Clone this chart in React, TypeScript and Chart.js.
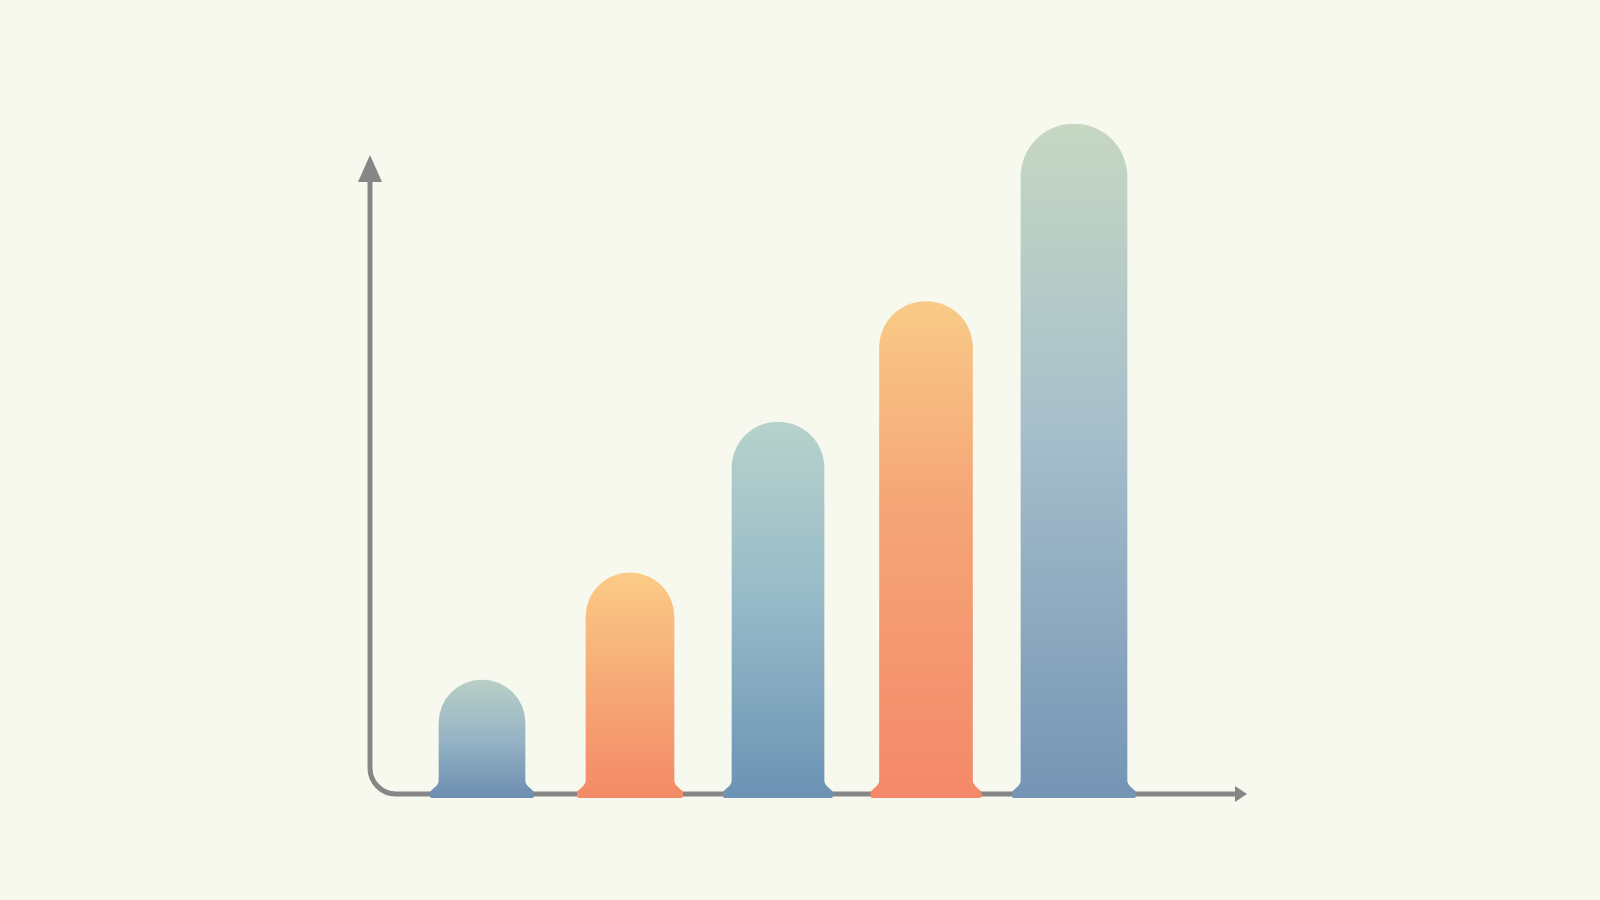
import React, { useEffect, useRef } from 'react';
import { Chart, registerables } from 'chart.js';

Chart.register(...registerables);

// data
const categories = ['A', 'B', 'C', 'D', 'E'];
const values = [17, 33, 55.5, 73.5, 100];
const yMax = 100;

// styles
const BG = '#f7f8ee';
const AXIS = '#868686';
const BAR_WIDTHS = [86, 88, 92, 93, 106];
const BAR_STOPS: [number, string][][] = [
  [[0, '#b9cfc6'], [0.55, '#94b2c4'], [1, '#6e8fb1']],
  [[0, '#fbcb86'], [0.55, '#f6a675'], [1, '#f48b67']],
  [[0, '#b7d2cb'], [0.5, '#95b9c8'], [1, '#6c93b4']],
  [[0, '#f9ca87'], [0.4, '#f5a677'], [1, '#f4896a']],
  [[0, '#c6d7c2'], [0.45, '#a7bfcb'], [1, '#7595b5']],
];

const barGradient = (chart: Chart, i: number, top: number, bottom: number) => {
  const g = chart.ctx.createLinearGradient(0, top, 0, bottom);
  BAR_STOPS[i].forEach(([o, col]) => g.addColorStop(o, col));
  return g;
};

const axisPlugin = {
  id: 'arrowAxes',
  beforeDatasetsDraw(chart: Chart) {
    const { ctx, chartArea } = chart;
    const x0 = chartArea.left - 38;
    const base = chartArea.bottom;
    const tipY = chartArea.top + 31;
    const endX = chartArea.right + 99;
    const r = 26;
    ctx.save();
    ctx.strokeStyle = AXIS;
    ctx.fillStyle = AXIS;
    ctx.lineWidth = 5;
    ctx.lineCap = 'butt';
    ctx.lineJoin = 'round';
    ctx.beginPath();
    ctx.moveTo(x0, tipY + 22);
    ctx.lineTo(x0, base - r);
    ctx.arcTo(x0, base, x0 + r, base, r);
    ctx.lineTo(endX - 8, base);
    ctx.stroke();
    // y arrow head
    ctx.beginPath();
    ctx.moveTo(x0, tipY);
    ctx.lineTo(x0 + 12, tipY + 27);
    ctx.lineTo(x0 - 12, tipY + 27);
    ctx.closePath();
    ctx.fill();
    // x arrow head
    ctx.beginPath();
    ctx.moveTo(endX, base);
    ctx.lineTo(endX - 12, base - 8);
    ctx.lineTo(endX - 12, base + 8);
    ctx.closePath();
    ctx.fill();
    ctx.restore();
  },
};

// flared foot at the base of every bar
const footPlugin = {
  id: 'barFeet',
  afterDatasetsDraw(chart: Chart) {
    const { ctx } = chart;
    chart.data.datasets.forEach((ds, i) => {
      const meta = chart.getDatasetMeta(i);
      meta.data.forEach((el: any, j: number) => {
        if (ds.data[j] == null) return;
        const { x, y, base, width } = el.getProps(['x', 'y', 'base', 'width'], true);
        const l = x - width / 2;
        const rr = x + width / 2;
        const flare = 9;
        const h = 17;
        ctx.save();
        ctx.fillStyle = barGradient(chart, i, y, base);
        ctx.beginPath();
        ctx.moveTo(l + 1, base - h);
        ctx.bezierCurveTo(l, base - 8, l - flare + 3, base - 6, l - flare, base - 2);
        ctx.lineTo(l - flare, base + 2);
        ctx.quadraticCurveTo(l - flare, base + 4, l - flare + 2, base + 4);
        ctx.lineTo(rr + flare - 2, base + 4);
        ctx.quadraticCurveTo(rr + flare, base + 4, rr + flare, base + 2);
        ctx.lineTo(rr + flare, base - 2);
        ctx.bezierCurveTo(rr + flare - 3, base - 6, rr, base - 8, rr - 1, base - h);
        ctx.closePath();
        ctx.fill();
        ctx.restore();
      });
    });
  },
};

const App: React.FC = () => {
  const canvasRef = useRef<HTMLCanvasElement>(null);
  const chartRef = useRef<Chart | null>(null);

  useEffect(() => {
    if (!canvasRef.current) return;
    if (chartRef.current) chartRef.current.destroy();
    const ctx = canvasRef.current.getContext('2d');
    if (!ctx) return;

    const datasets = values.map((v, i) => ({
      label: categories[i],
      data: values.map((_, j) => (j === i ? v : null)),
      barThickness: BAR_WIDTHS[i],
      borderWidth: 0,
      borderSkipped: 'start' as const,
      borderRadius: {
        topLeft: BAR_WIDTHS[i] / 2,
        topRight: BAR_WIDTHS[i] / 2,
        bottomLeft: 0,
        bottomRight: 0,
      },
      backgroundColor: (c: any) => {
        const chart = c.chart as Chart;
        if (c.raw == null || !chart.chartArea || !chart.scales.y) return 'rgba(0,0,0,0)';
        const y = chart.scales.y;
        return barGradient(chart, i, y.getPixelForValue(c.raw), y.getPixelForValue(0));
      },
    }));

    chartRef.current = new Chart(ctx, {
      type: 'bar',
      data: { labels: categories, datasets },
      options: {
        responsive: true,
        maintainAspectRatio: false,
        animation: false,
        layout: { padding: { left: 408, right: 452, top: 124, bottom: 106 } },
        datasets: { bar: { grouped: false } },
        plugins: {
          legend: { display: false },
          tooltip: { enabled: false },
        },
        scales: {
          x: { display: false },
          y: { display: false, min: 0, max: yMax },
        },
      },
      plugins: [axisPlugin, footPlugin],
    });

    return () => {
      if (chartRef.current) {
        chartRef.current.destroy();
        chartRef.current = null;
      }
    };
  }, []);

  return (
    <div
      style={{
        position: 'fixed',
        left: 0,
        top: 0,
        width: '1600px',
        height: '900px',
        background: BG,
      }}
    >
      <canvas ref={canvasRef}></canvas>
    </div>
  );
};

export default App;
